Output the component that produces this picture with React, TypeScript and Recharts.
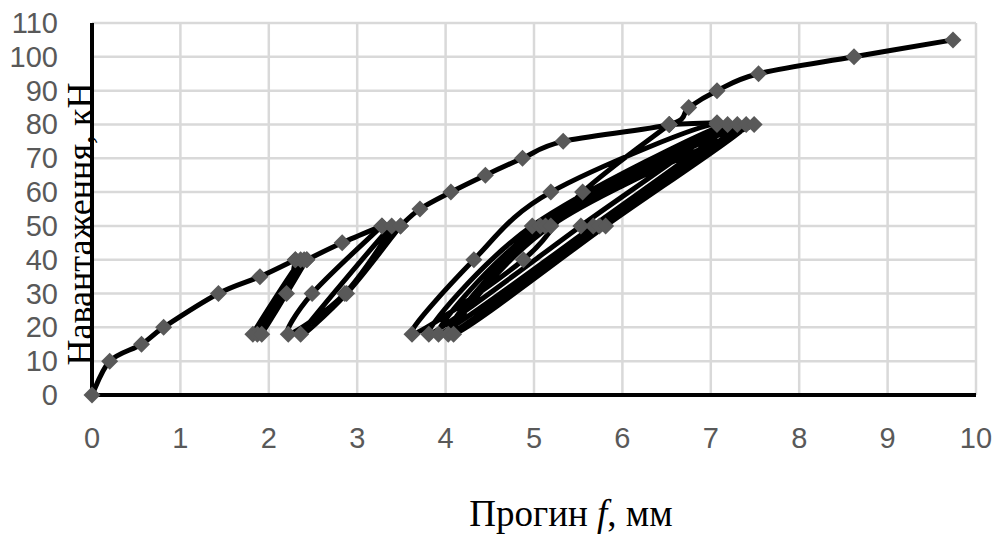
import { LineChart, Line, XAxis, YAxis, CartesianGrid, Label } from 'recharts';

// прогин f (мм) / навантаження P (кН) for each part of the loading history
const branch1F = [0, 0.2, 0.56, 0.81, 1.43, 1.9, 2.3];
const branch1P = [0, 10, 15, 20, 30, 35, 40];

const cycles40F = [2.3, 2.2, 1.82, 2.36, 1.87, 2.4, 1.92, 2.43];
const cycles40P = [40, 30, 18, 40, 18, 40, 18, 40];

const branch2F = [2.43, 2.83, 3.28];
const branch2P = [40, 45, 50];

const cycles50F = [3.28, 2.49, 2.22, 2.86, 3.39, 2.36, 2.88, 3.49];
const cycles50P = [50, 30, 18, 30, 50, 18, 30, 50];

const branch3F = [3.49, 3.71, 4.06, 4.45, 4.87, 5.33, 6.53, 6.75, 7.07, 7.54, 8.62, 9.74];
const branch3P = [50, 55, 60, 65, 70, 75, 80, 85, 90, 95, 100, 105];

const hold80F = [6.53, 7.07];
const hold80P = [80, 80.5];

const cycles80F = [6.53, 5.55, 4.88, 3.62, 4.32, 5.19, 7.07, 5.53, 3.81, 4.98, 7.19, 5.67, 3.92, 5.07, 7.3, 5.74, 4.03, 5.13, 7.4, 5.81, 4.09, 5.19, 7.49];
const cycles80P = [80, 60, 40, 18, 40, 60, 80, 50, 18, 50, 80, 50, 18, 50, 80, 50, 18, 50, 80, 50, 18, 50, 80];

const xTicks = [0, 1, 2, 3, 4, 5, 6, 7, 8, 9, 10];
const yTicks = [0, 10, 20, 30, 40, 50, 60, 70, 80, 90, 100, 110];

const zip = (f: number[], p: number[]) => f.map((x, i) => ({ x, y: p[i] }));

const series = [
  zip(branch1F, branch1P),
  zip(cycles40F, cycles40P),
  zip(branch2F, branch2P),
  zip(cycles50F, cycles50P),
  zip(branch3F, branch3P),
  zip(hold80F, hold80P),
  zip(cycles80F, cycles80P),
];

// smooth line like Excel (Catmull-Rom through every point)
const smooth: any = (ctx: any) => {
  let pts: number[][] = [];
  return {
    areaStart() {},
    areaEnd() {},
    lineStart() {
      pts = [];
    },
    point(x: number, y: number) {
      pts.push([+x, +y]);
    },
    lineEnd() {
      if (!pts.length) return;
      ctx.moveTo(pts[0][0], pts[0][1]);
      const t = 1 / 6;
      for (let i = 0; i < pts.length - 1; i++) {
        const p0 = pts[i - 1] || pts[i];
        const p1 = pts[i];
        const p2 = pts[i + 1];
        const p3 = pts[i + 2] || p2;
        ctx.bezierCurveTo(
          p1[0] + (p2[0] - p0[0]) * t,
          p1[1] + (p2[1] - p0[1]) * t,
          p2[0] - (p3[0] - p1[0]) * t,
          p2[1] - (p3[1] - p1[1]) * t,
          p2[0],
          p2[1]
        );
      }
    },
  };
};

const Diamond = (props: any) => {
  const { cx, cy, index, dataKey } = props;
  if (cx == null || cy == null) return null;
  const r = 8.5;
  return (
    <path
      key={`${dataKey}-${index}`}
      d={`M${cx},${cy - r}L${cx + r},${cy}L${cx},${cy + r}L${cx - r},${cy}Z`}
      fill="#595959"
    />
  );
};

const XTick = ({ x, y, payload }: any) => (
  <text x={x} y={y + 53} textAnchor="middle" fill="#595959" fontSize={29} fontFamily="Liberation Sans, sans-serif">
    {payload.value}
  </text>
);

const YTick = ({ x, y, payload }: any) => (
  <text x={x - 34} y={y + 10} textAnchor="end" fill="#595959" fontSize={29} fontFamily="Liberation Sans, sans-serif">
    {payload.value}
  </text>
);

export default function App() {
  return (
    <div style={{ width: 996, height: 541 }}>
      <style>{'body{margin:0}'}</style>
      <LineChart width={996} height={541} margin={{ top: 23, right: 20, bottom: 0, left: 0 }}>
        <CartesianGrid stroke="#d9d9d9" strokeWidth={2.5} />
        <XAxis
          type="number"
          dataKey="x"
          domain={[0, 10]}
          ticks={xTicks}
          height={146}
          tickSize={0}
          tickMargin={0}
          tickLine={false}
          axisLine={{ stroke: '#000', strokeWidth: 4 }}
          tick={<XTick />}
          interval={0}
        >
          <Label
            content={() => (
              <text x={571} y={526} textAnchor="middle" fill="#000" fontSize={37} fontFamily="Liberation Serif, serif">
                Прогин <tspan fontStyle="italic">f</tspan>, мм
              </text>
            )}
          />
        </XAxis>
        <YAxis
          type="number"
          dataKey="y"
          domain={[0, 110]}
          ticks={yTicks}
          width={92}
          tickSize={0}
          tickMargin={0}
          tickLine={false}
          axisLine={{ stroke: '#000', strokeWidth: 4 }}
          tick={<YTick />}
          interval={0}
        >
          <Label
            content={() => (
              <text
                transform="translate(92,224) rotate(-90)"
                textAnchor="middle"
                fill="#000"
                fontSize={36}
                fontFamily="Liberation Serif, serif"
              >
                Навантаження, кН
              </text>
            )}
          />
        </YAxis>
        {series.map((d, i) => (
          <Line
            key={`line-${i}`}
            data={d}
            dataKey="y"
            type={smooth}
            stroke="#000"
            strokeWidth={5}
            dot={false}
            activeDot={false}
            isAnimationActive={false}
          />
        ))}
        {series.map((d, i) => (
          <Line
            key={`marks-${i}`}
            data={d}
            dataKey="y"
            stroke="none"
            strokeWidth={0}
            dot={<Diamond />}
            activeDot={false}
            isAnimationActive={false}
          />
        ))}
      </LineChart>
    </div>
  );
}
